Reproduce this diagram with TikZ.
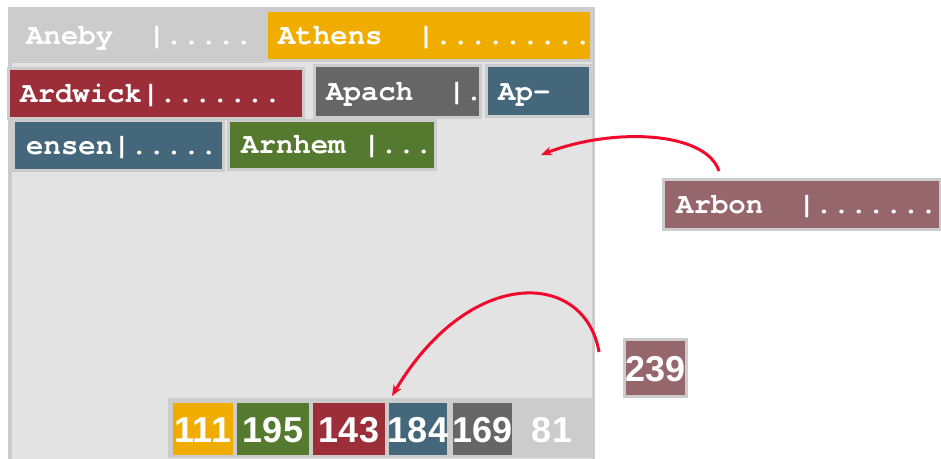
\documentclass[tikz,border=0pt]{standalone}
\usepackage{fontspec}
\newfontfamily\boxfont{TeX Gyre Cursor}
\newfontfamily\numfont{Liberation Sans}
\usetikzlibrary{arrows.meta}
\definecolor{panel}{HTML}{E3E3E3}
\definecolor{framegray}{HTML}{CCCCCC}
\definecolor{corange}{HTML}{F0AD00}
\definecolor{cgreen}{HTML}{557A2F}
\definecolor{cred}{HTML}{9C2E39}
\definecolor{cblue}{HTML}{44677B}
\definecolor{cdark}{HTML}{666666}
\definecolor{cmauve}{HTML}{96666D}
\definecolor{arrred}{HTML}{F20A2C}
\begin{document}
\begin{tikzpicture}[x=1pt,y=-1pt,
  wbox/.style={draw=framegray,line width=3pt,inner sep=0pt,outer sep=0pt},
  nbox/.style={inner sep=0pt,outer sep=0pt},
  wtext/.style={anchor=base west,inner sep=0pt,text=white,font=\boxfont\bfseries\fontsize{29}{29}\selectfont},
  ntext/.style={anchor=base,inner sep=0pt,text=white,font=\numfont\bfseries\fontsize{36}{36}\selectfont},
  arr/.style={draw=arrred,line width=3pt,-{Stealth[length=11pt,width=9pt]}}]
\useasboundingbox (0,0) rectangle (941,458);
% panel
\draw[framegray,line width=3.5pt,fill=panel] (9.75,8.75) rectangle (593.5,475);
% word boxes
\node[wbox,fill=framegray,minimum width=250pt,minimum height=51pt] (aneby) at (138.5,36) {};
\node[wbox,fill=corange,minimum width=325pt,minimum height=50pt] (athens) at (429,35.5) {};
\node[wbox,fill=cred,minimum width=295pt,minimum height=50pt] (ardwick) at (156,93.5) {};
\node[wbox,fill=cdark,minimum width=166pt,minimum height=52pt] (apach) at (397.5,91.5) {};
\node[wbox,fill=cblue,minimum width=104pt,minimum height=51pt] (ap) at (538.5,91) {};
\node[wbox,fill=cblue,minimum width=210pt,minimum height=50pt] (ensen) at (118.5,145.5) {};
\node[wbox,fill=cgreen,minimum width=207pt,minimum height=49pt] (arnhem) at (332,145) {};
\node[wbox,fill=cmauve,minimum width=277pt,minimum height=50pt] (arbon) at (802,204.5) {};
% word texts
\node[wtext] (t-aneby) at (26,44) {Aneby\ \ |.....};
\node[wtext] (t-athens) at (278,44) {Athens\ \ |.........};
\node[wtext] (t-ardwick) at (20,102) {Ardwick|.......};
\node[wtext] (t-apach) at (326,100) {Apach\ \ |.};
\node[wtext] (t-ap) at (498,100) {Ap-};
\node[wtext] (t-ensen) at (26,154) {ensen|.....};
\node[wtext] (t-arnhem) at (241,153) {Arnhem\ |...};
\node[wtext] (t-arbon) at (676,213) {Arbon\ \ |.......};
% number strip
\node[nbox,fill=framegray,minimum width=427pt,minimum height=60pt] (strip) at (381.5,428) {};
\node[nbox,fill=corange,minimum width=60pt,minimum height=52pt] (n111) at (203,429) {};
\node[nbox,fill=cgreen,minimum width=72pt,minimum height=52pt] (n195) at (273,429) {};
\node[nbox,fill=cred,minimum width=72pt,minimum height=52pt] (n143) at (349,429) {};
\node[nbox,fill=cblue,minimum width=58pt,minimum height=52pt] (n184) at (418,429) {};
\node[nbox,fill=cdark,minimum width=59pt,minimum height=52pt] (n169) at (482.5,429) {};
\node[ntext] (t111) at (203,442) {111};
\node[ntext] (t195) at (273,442) {195};
\node[ntext] (t143) at (349,442) {143};
\node[ntext] (t184) at (418,442) {184};
\node[ntext] (t169) at (482.5,442) {169};
\node[ntext] (t81) at (552,442) {81};
% 239
\node[wbox,fill=cmauve,minimum width=62pt,minimum height=57pt] (n239) at (655.5,368) {};
\node[ntext] (t239) at (655.5,381) {239};
% arrows
\coordinate (a1s) at (719,171);
\coordinate (a1e) at (541,155);
\coordinate (a2s) at (599,352);
\coordinate (a2e) at (392,396);
\draw[arr] (a1s) .. controls (705,130) and (610,128) .. (a1e);
\draw[arr] (a2s) .. controls (585,270) and (470,265) .. (a2e);
\end{tikzpicture}
\end{document}
